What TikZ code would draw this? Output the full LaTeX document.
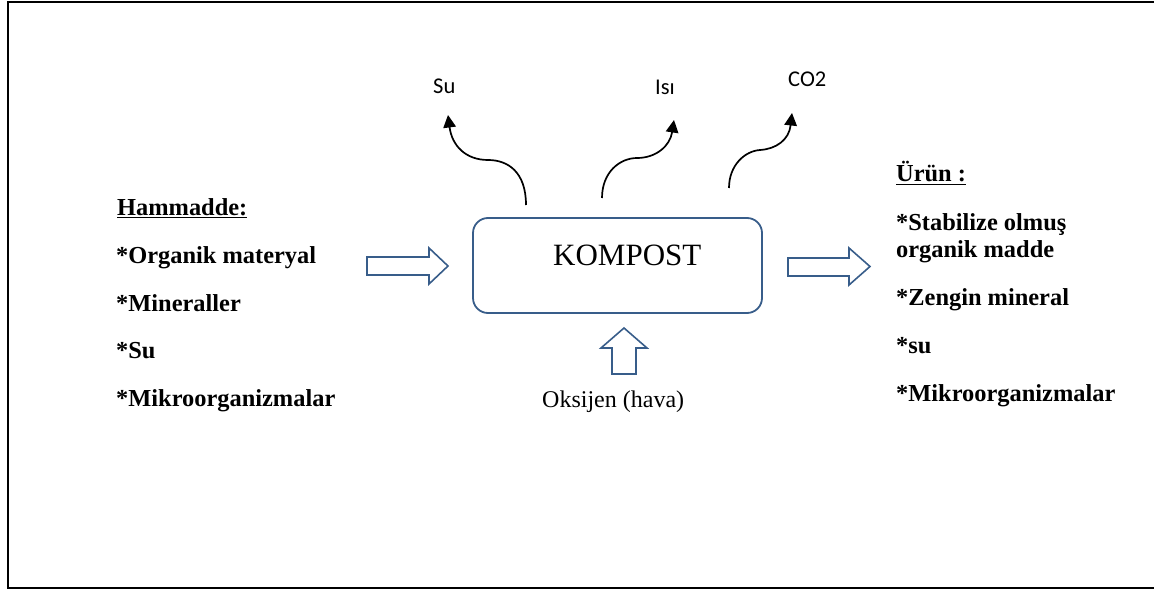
\documentclass[tikz,border=0pt]{standalone}
\usepackage{fontspec}
\setmainfont{Liberation Serif}
\newfontfamily\calib{Carlito}
\usetikzlibrary{arrows.meta,shapes.arrows}
\definecolor{shapeblue}{RGB}{56,93,138}
\begin{document}
\begin{tikzpicture}[x=1pt,y=-1pt,
  listtext/.style={anchor=base west,inner sep=0pt,font=\fontsize{24.4}{27}\selectfont\bfseries},
  outlabel/.style={anchor=base west,inner sep=0pt,font=\calib\fontsize{22.5}{26}\selectfont},
  flow/.style={draw=black,line width=1.7pt,-{Triangle[length=12.5pt,width=12.5pt]}},
  hollow/.style={draw=shapeblue,line width=1.6pt,fill=white,line join=miter}]
\useasboundingbox (0,0) rectangle (1154,591);
% outer frame (open on the right)
\draw[line width=1.7pt] (1154,2) -- (8,2) -- (8,588) -- (1154,588);

% central process box
\node[draw=shapeblue,line width=1.8pt,rounded corners=15pt,minimum width=289pt,minimum height=95pt,inner sep=0pt] (box) at (617.5,265.5) {};
\node[anchor=base west,inner sep=0pt,font=\fontsize{31}{34}\selectfont] (komp) at (553,265) {KOMPOST};

% block arrows: input, output, air supply
\path[hollow] (367,257) -- (429,257) -- (429,248) -- (448,266) -- (429,284) -- (429,275) -- (367,275) -- cycle;
\path[hollow] (788,258) -- (849,258) -- (849,248) -- (870,266.5) -- (849,285) -- (849,276) -- (788,276) -- cycle;
\path[hollow] (612,374) -- (612,348) -- (601,348) -- (624,328) -- (647,348) -- (636,348) -- (636,374) -- cycle;
\node[anchor=base west,inner sep=0pt,font=\fontsize{24}{26}\selectfont] (oks) at (542,407) {Oksijen (hava)};

% outputs released from the pile
\coordinate (s0) at (526,205);
\coordinate (s1) at (448,115);
\coordinate (i0) at (602,198);
\coordinate (i1) at (674,120);
\coordinate (c0) at (729,188);
\coordinate (c1) at (792,113);
\draw[flow] (s0) .. controls (526,172) and (508,160) .. (488,160) .. controls (466,160) and (452,146) .. (s1);
\draw[flow] (i0) .. controls (602,172) and (620,158) .. (637,158) .. controls (656,158) and (670,146) .. (i1);
\draw[flow] (c0) .. controls (729,165) and (745,151) .. (760,150) .. controls (776,149) and (789,140) .. (c1);
\node[outlabel] (su) at (433,94) {Su};
\node[outlabel] (isi) at (655,95) {Isı};
\node[outlabel] (co2) at (788,87) {CO2};

% raw material list
\node[listtext] (h0) at (117,215) {\underline{Hammadde:}};
\node[listtext] (h1) at (116,263) {*Organik materyal};
\node[listtext] (h2) at (116,311) {*Mineraller};
\node[listtext] (h3) at (116,358) {*Su};
\node[listtext] (h4) at (116,406) {*Mikroorganizmalar};

% product list
\node[listtext] (u0) at (896,182) {\underline{Ürün :}};
\node[listtext] (u1) at (896,230) {*Stabilize olmuş};
\node[listtext] (u2) at (896,257) {organik madde};
\node[listtext] (u3) at (896,305) {*Zengin mineral};
\node[listtext] (u4) at (896,353) {*su};
\node[listtext] (u5) at (896,401) {*Mikroorganizmalar};
\end{tikzpicture}
\end{document}
